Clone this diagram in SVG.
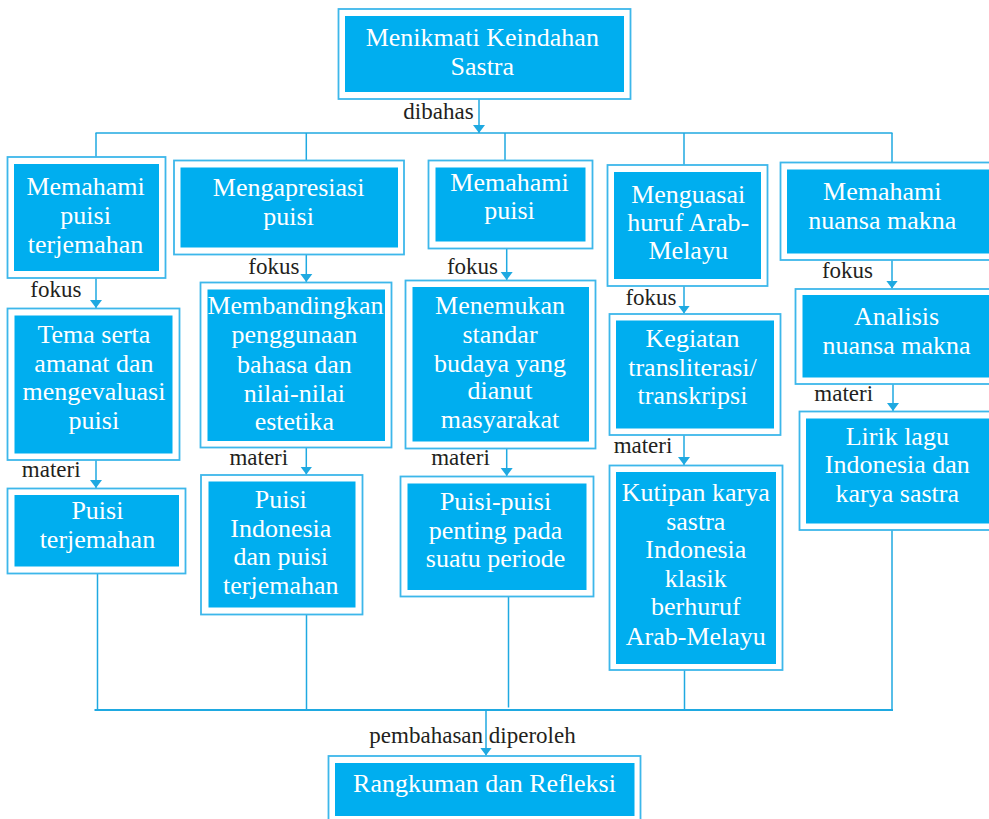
<svg xmlns="http://www.w3.org/2000/svg" width="989" height="819" viewBox="0 0 989 819">
<defs>
<style>
.o{fill:#ffffff;stroke:#3DB7EA;stroke-width:1.8}
.i{fill:#00AEEF}
.t{font-family:'Liberation Serif',serif;font-size:26px;fill:#ffffff;text-anchor:middle}
.l{font-family:'Liberation Serif',serif;font-size:23px;fill:#231F20;text-anchor:middle}
.c{fill:none;stroke:#1FA9E1;stroke-width:1.5}
.c2{fill:none;stroke:#1FA9E1;stroke-width:2.2}
.a{marker-end:url(#arr)}
</style>
<marker id="arr" markerUnits="userSpaceOnUse" markerWidth="9" markerHeight="13" refX="8" refY="6.5" orient="auto" viewBox="0 0 9 13">
<path d="M0,0.5 L8,6.5 L0,12.5 z" fill="#1FA9E1"/>
</marker>
</defs>
<rect width="989" height="819" fill="#ffffff"/>

<g id="connectors">
<line class="c a" x1="479" y1="99" x2="479" y2="133"/>
<line class="c" x1="95.5" y1="133" x2="892.5" y2="133"/>
<line class="c" x1="96" y1="133" x2="96" y2="157"/>
<line class="c" x1="306.3" y1="133" x2="306.3" y2="160.5"/>
<line class="c" x1="505" y1="133" x2="505" y2="160.5"/>
<line class="c" x1="684" y1="133" x2="684" y2="165"/>
<line class="c" x1="892" y1="133" x2="892" y2="162.5"/>
<line class="c a" x1="96" y1="278" x2="96" y2="308"/>
<line class="c a" x1="96" y1="460" x2="96" y2="488"/>
<line class="c a" x1="306.3" y1="254.5" x2="306.3" y2="282"/>
<line class="c a" x1="306.3" y1="447.5" x2="306.3" y2="474.5"/>
<line class="c a" x1="506.7" y1="248.5" x2="506.7" y2="280"/>
<line class="c a" x1="506.7" y1="448.5" x2="506.7" y2="476"/>
<line class="c a" x1="684" y1="286" x2="684" y2="313.5"/>
<line class="c a" x1="684" y1="435" x2="684" y2="465"/>
<line class="c a" x1="892" y1="260" x2="892" y2="288.5"/>
<line class="c a" x1="893" y1="384" x2="893" y2="411"/>
<line class="c" x1="97.5" y1="573.5" x2="97.5" y2="710"/>
<line class="c" x1="306.5" y1="614.5" x2="306.5" y2="710"/>
<line class="c" x1="508.5" y1="596.5" x2="508.5" y2="707.5"/>
<line class="c" x1="684.5" y1="670" x2="684.5" y2="710"/>
<line class="c" x1="892" y1="530" x2="892" y2="710"/>
<line class="c2" x1="94.5" y1="710" x2="893" y2="710"/>
<line class="c a" x1="486" y1="710" x2="486" y2="755.5"/>
<text class="l" x="438.5" y="119">dibahas</text>
<text class="l" x="55.8" y="297.3">fokus</text>
<text class="l" x="51.2" y="476.7">materi</text>
<text class="l" x="273.9" y="274">fokus</text>
<text class="l" x="258.8" y="465">materi</text>
<text class="l" x="472.5" y="274">fokus</text>
<text class="l" x="460.5" y="465">materi</text>
<text class="l" x="651" y="305">fokus</text>
<text class="l" x="643" y="452.7">materi</text>
<text class="l" x="847.5" y="278.3">fokus</text>
<text class="l" x="843.7" y="400.7">materi</text>
<text class="l" x="472.5" y="743">pembahasan diperoleh</text>
</g>

<g id="n0">
<rect class="o" x="338.5" y="9" width="292" height="90"/>
<rect class="i" x="345" y="16" width="279" height="76"/>
<text class="t" x="482.3" y="46">Menikmati Keindahan</text>
<text class="t" x="482.3" y="75">Sastra</text>
</g>

<g id="n1">
<rect class="o" x="7.5" y="157" width="158" height="121"/>
<rect class="i" x="14" y="164" width="145" height="107"/>
<text class="t" x="85.6" y="195">Memahami</text>
<text class="t" x="85.6" y="224">puisi</text>
<text class="t" x="85.6" y="253">terjemahan</text>
</g>

<g id="n2">
<rect class="o" x="174" y="160.5" width="230" height="94"/>
<rect class="i" x="180.5" y="167.5" width="217.5" height="80"/>
<text class="t" x="288.6" y="196">Mengapresiasi</text>
<text class="t" x="288.6" y="225">puisi</text>
</g>

<g id="n3">
<rect class="o" x="428.5" y="160.5" width="164" height="88"/>
<rect class="i" x="435.5" y="167.5" width="150" height="74"/>
<text class="t" x="509.5" y="190.7">Memahami</text>
<text class="t" x="509.5" y="219">puisi</text>
</g>

<g id="n4">
<rect class="o" x="607.5" y="165" width="160" height="121"/>
<rect class="i" x="614" y="172" width="147" height="107"/>
<text class="t" x="688.2" y="202.7">Menguasai</text>
<text class="t" x="688.2" y="230.7">huruf Arab-</text>
<text class="t" x="688.2" y="259.3">Melayu</text>
</g>

<g id="n5">
<rect class="o" x="780.5" y="162.5" width="220" height="97.5"/>
<rect class="i" x="787" y="169.5" width="210" height="84"/>
<text class="t" x="882.3" y="200">Memahami</text>
<text class="t" x="882.3" y="229.3">nuansa makna</text>
</g>

<g id="n6">
<rect class="o" x="7.5" y="308.5" width="172" height="151.5"/>
<rect class="i" x="14.5" y="315.5" width="158" height="138"/>
<text class="t" x="93.9" y="343.3">Tema serta</text>
<text class="t" x="93.9" y="372.3">amanat dan</text>
<text class="t" x="93.9" y="400">mengevaluasi</text>
<text class="t" x="93.9" y="429">puisi</text>
</g>

<g id="n7">
<rect class="o" x="7.5" y="488.5" width="178" height="85"/>
<rect class="i" x="14.5" y="495" width="164.5" height="71.5"/>
<text class="t" x="97.4" y="518.7">Puisi</text>
<text class="t" x="97.4" y="547.7">terjemahan</text>
</g>

<g id="n8">
<rect class="o" x="200.5" y="282.5" width="191" height="165"/>
<rect class="i" x="207.5" y="289.5" width="177.5" height="151.5"/>
<text class="t" x="295.5" y="314.3">Membandingkan</text>
<text class="t" x="294.4" y="343.3">penggunaan</text>
<text class="t" x="294.4" y="372.7">bahasa dan</text>
<text class="t" x="294.4" y="401.7">nilai-nilai</text>
<text class="t" x="294.4" y="430">estetika</text>
</g>

<g id="n9">
<rect class="o" x="201" y="475" width="161.5" height="139.5"/>
<rect class="i" x="208.5" y="481.5" width="147" height="126"/>
<text class="t" x="280.8" y="507.7">Puisi</text>
<text class="t" x="280.8" y="537.3">Indonesia</text>
<text class="t" x="280.8" y="565">dan puisi</text>
<text class="t" x="280.8" y="594.3">terjemahan</text>
</g>

<g id="n10">
<rect class="o" x="405.5" y="280.5" width="190" height="168"/>
<rect class="i" x="412.5" y="287" width="176.5" height="154.5"/>
<text class="t" x="500" y="314.3">Menemukan</text>
<text class="t" x="500" y="342.7">standar</text>
<text class="t" x="500" y="371.7">budaya yang</text>
<text class="t" x="500" y="399.3">dianut</text>
<text class="t" x="500" y="428.3">masyarakat</text>
</g>

<g id="n11">
<rect class="o" x="400.5" y="476.5" width="193" height="120"/>
<rect class="i" x="407.5" y="483.5" width="179" height="106.5"/>
<text class="t" x="495.5" y="510">Puisi-puisi</text>
<text class="t" x="495.5" y="539.3">penting pada</text>
<text class="t" x="495.5" y="567.3">suatu periode</text>
</g>

<g id="n12">
<rect class="o" x="609.5" y="314" width="171" height="121"/>
<rect class="i" x="616" y="320.5" width="158" height="108"/>
<text class="t" x="692.5" y="347.3">Kegiatan</text>
<text class="t" x="692.5" y="376">transliterasi/</text>
<text class="t" x="692.5" y="404.3">transkripsi</text>
</g>

<g id="n13">
<rect class="o" x="609.5" y="465.5" width="173" height="204.5"/>
<rect class="i" x="616" y="472" width="160" height="192"/>
<text class="t" x="695.8" y="500.7">Kutipan karya</text>
<text class="t" x="695.8" y="530">sastra</text>
<text class="t" x="695.8" y="558.3">Indonesia</text>
<text class="t" x="695.8" y="586.7">klasik</text>
<text class="t" x="695.8" y="615">berhuruf</text>
<text class="t" x="695.8" y="645">Arab-Melayu</text>
</g>

<g id="n14">
<rect class="o" x="795.5" y="289" width="205" height="95"/>
<rect class="i" x="802.5" y="295" width="195" height="82.5"/>
<text class="t" x="896.5" y="325">Analisis</text>
<text class="t" x="896.5" y="354">nuansa makna</text>
</g>

<g id="n15">
<rect class="o" x="799.5" y="411.5" width="201" height="118.5"/>
<rect class="i" x="806" y="418.5" width="191" height="105"/>
<text class="t" x="897.3" y="445">Lirik lagu</text>
<text class="t" x="897.3" y="473.3">Indonesia dan</text>
<text class="t" x="897.3" y="501.7">karya sastra</text>
</g>

<g id="n16">
<rect class="o" x="328.5" y="756" width="312" height="74"/>
<rect class="i" x="335" y="763" width="299.5" height="53"/>
<text class="t" x="484.5" y="792">Rangkuman dan Refleksi</text>
</g>
</svg>
